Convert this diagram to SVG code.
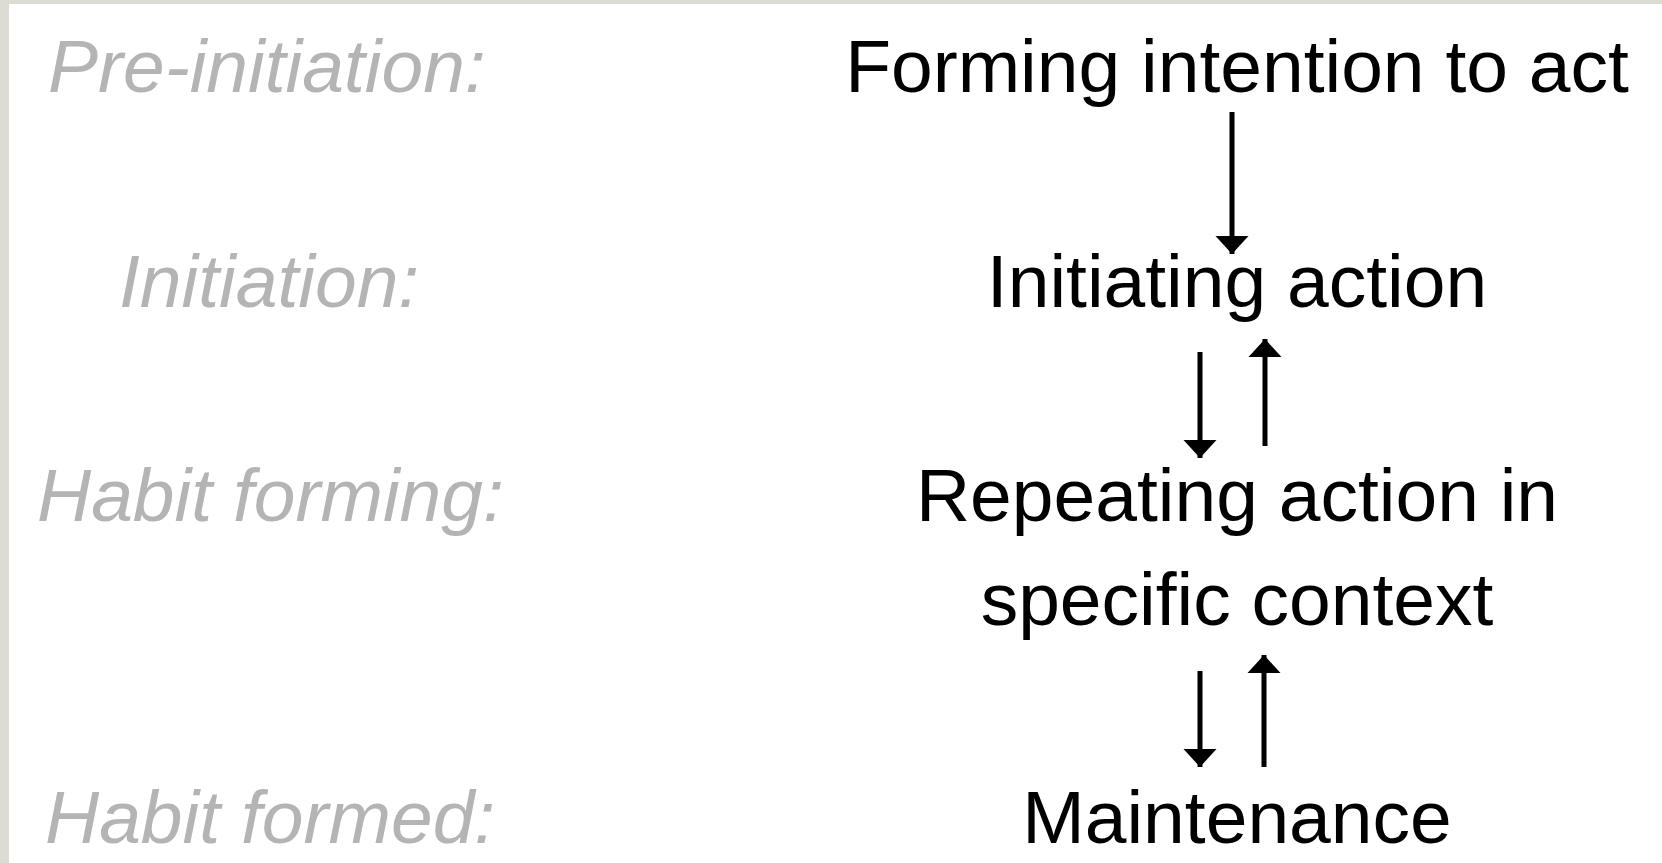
<svg xmlns="http://www.w3.org/2000/svg" width="1662" height="863" viewBox="0 0 1662 863">
  <style>
    .stage { font-family: "Liberation Sans", Arial, sans-serif; font-size: 75px; font-style: italic; fill: #b4b4b4; }
    .step { font-family: "Liberation Sans", Arial, sans-serif; font-size: 75px; fill: #000000; text-anchor: middle; }
    .conn { stroke: #000000; stroke-width: 5; fill: none; marker-end: url(#head); }
  </style>
  <defs>
    <marker id="head" markerUnits="userSpaceOnUse" viewBox="0 -17 18 34" refX="18" refY="0" markerWidth="18" markerHeight="34" orient="auto">
      <path d="M0,-16.5 L18,0 L0,16.5 Z" fill="#000000"/>
    </marker>
  </defs>
  <rect x="0" y="0" width="1662" height="863" fill="#ffffff"/>
  <rect x="0" y="0" width="1662" height="4" fill="#dcdcd3"/>
  <rect x="0" y="0" width="9" height="863" fill="#dcdcd3"/>

  <g id="stage-labels">
    <text class="stage" x="48" y="92">Pre-initiation:</text>
    <text class="stage" x="119" y="307">Initiation:</text>
    <text class="stage" x="37" y="521">Habit forming:</text>
    <text class="stage" x="45" y="843">Habit formed:</text>
  </g>

  <g id="node-intention">
    <text class="step" x="1237" y="92">Forming intention to act</text>
  </g>
  <g id="node-initiating">
    <text class="step" x="1237" y="307">Initiating action</text>
  </g>
  <g id="node-repeating">
    <text class="step" x="1237" y="521">Repeating action in</text>
    <text class="step" x="1237" y="625">specific context</text>
  </g>
  <g id="node-maintenance">
    <text class="step" x="1237" y="843">Maintenance</text>
  </g>

  <g id="connectors">
    <line class="conn" x1="1232" y1="112" x2="1232" y2="254"/>
    <line class="conn" x1="1200" y1="352" x2="1200" y2="458"/>
    <line class="conn" x1="1265" y1="446" x2="1265" y2="339"/>
    <line class="conn" x1="1200" y1="671" x2="1200" y2="767"/>
    <line class="conn" x1="1264" y1="767" x2="1264" y2="655"/>
  </g>
</svg>
